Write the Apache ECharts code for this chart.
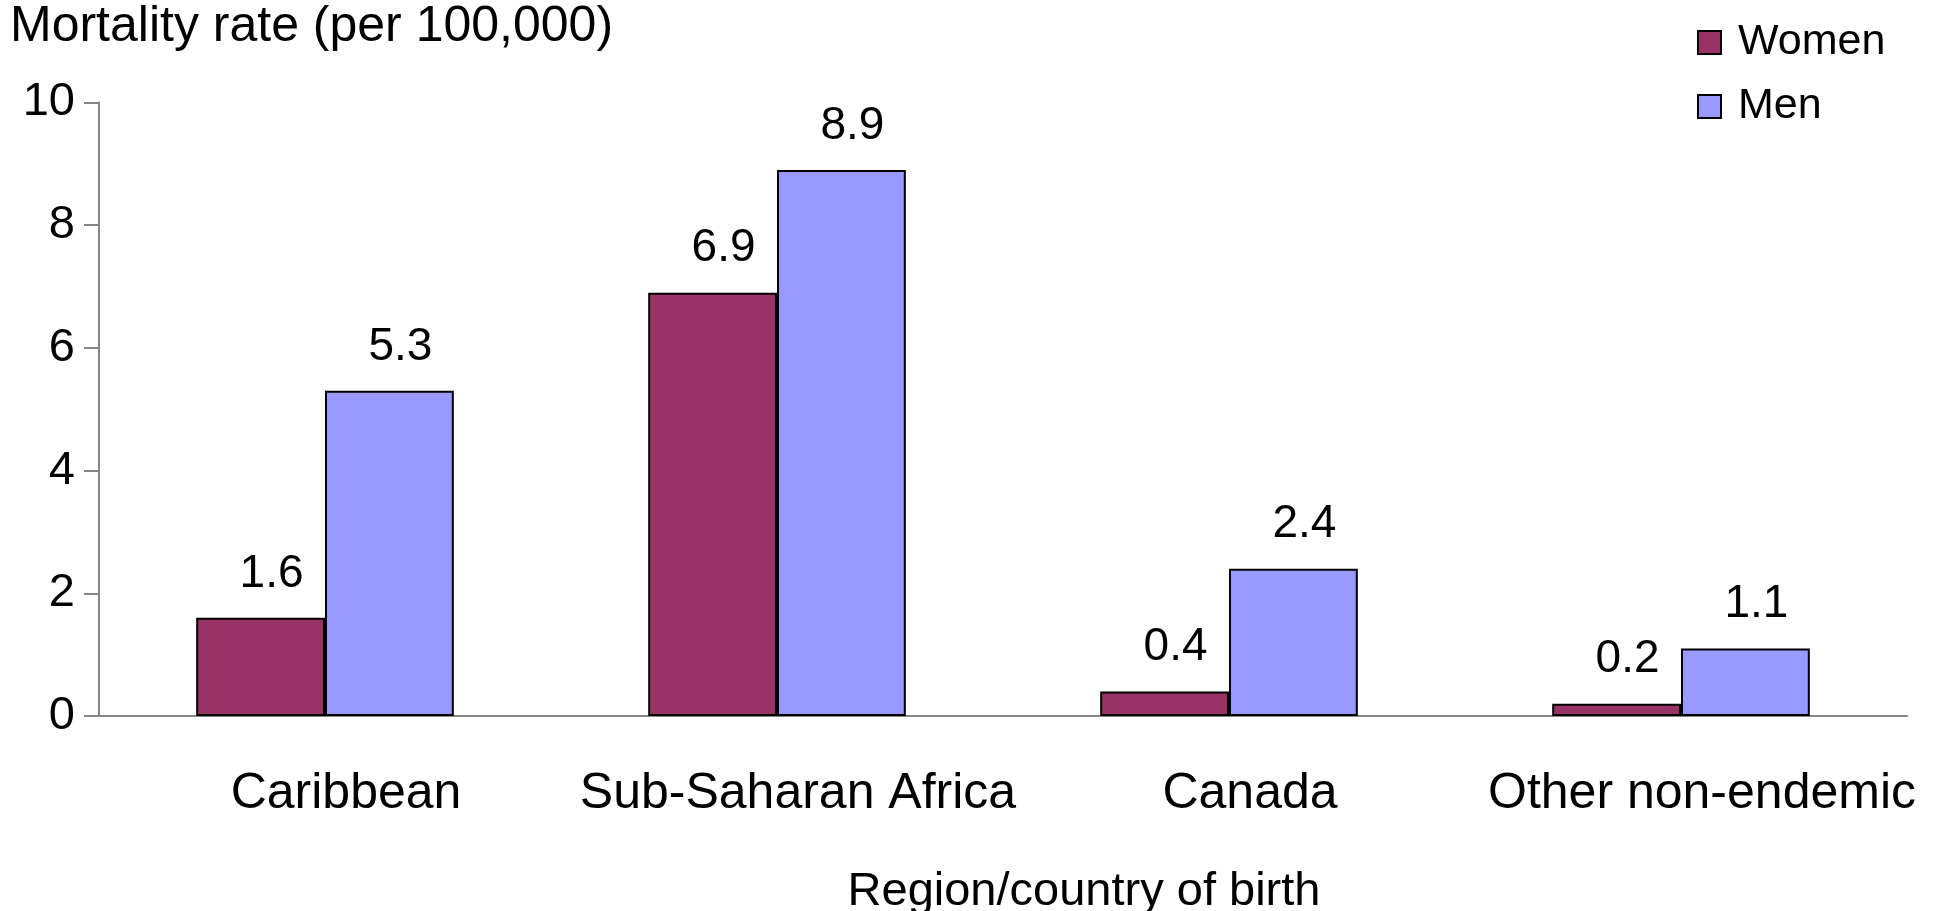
<!DOCTYPE html>
<html>
<head>
<meta charset="utf-8">
<script src="https://cdn.jsdelivr.net/npm/echarts@6/dist/echarts.min.js"></script>
<style>
  html, body { margin: 0; padding: 0; background: #fff; }
  #chart { width: 1944px; height: 911px; }
</style>
</head>
<body>
<div id="chart"></div>
<script>
const regions = ['Caribbean', 'Sub-Saharan Africa', 'Canada', 'Other non-endemic']
const women = [1.6, 6.9, 0.4, 0.2]
const men = [5.3, 8.9, 2.4, 1.1]
const yTicks = { min: 0, max: 10, interval: 2 }

const font = 'Liberation Sans, Arial, sans-serif'
const axisColor = '#858585'

const chart = echarts.init(document.getElementById('chart'))

const barLabel = {
  show: true,
  position: 'top',
  distance: 21,
  offset: [11, 0],
  color: '#000',
  fontFamily: font,
  fontSize: 46
}

chart.setOption({
  animation: false,
  title: {
    text: 'Mortality rate (per 100,000)',
    left: 10,
    top: 2,
    padding: 0,
    textStyle: {
      color: '#000',
      fontFamily: font,
      fontSize: 50,
      fontWeight: 'normal'
    }
  },
  legend: {
    orient: 'vertical',
    left: 1692,
    top: 16,
    itemWidth: 23,
    itemHeight: 23,
    itemGap: 21,
    icon: 'rect',
    textStyle: {
      color: '#000',
      fontFamily: font,
      fontSize: 43,
      padding: [0, 0, 0, 12]
    },
    data: ['Women', 'Men']
  },
  grid: {
    left: 99,
    right: 37,
    top: 102.5,
    bottom: 195,
    containLabel: false,
    outerBoundsMode: 'none'
  },
  xAxis: {
    type: 'category',
    data: regions,
    name: 'Region/country of birth',
    nameLocation: 'middle',
    nameGap: 153,
    nameTextStyle: {
      color: '#000',
      fontFamily: font,
      fontSize: 47,
      padding: [0, 0, 0, 162]
    },
    axisLine: { lineStyle: { color: axisColor, width: 2 } },
    axisTick: { length: 15, lineStyle: { color: axisColor, width: 2 } },
    axisLabel: {
      color: '#000',
      fontFamily: font,
      fontSize: 50,
      margin: 53,
      padding: [0, 0, 0, 42],
      interval: 0
    }
  },
  yAxis: {
    type: 'value',
    min: yTicks.min,
    max: yTicks.max,
    interval: yTicks.interval,
    axisLine: { show: true, lineStyle: { color: axisColor, width: 2 } },
    axisTick: { show: true, length: 15, lineStyle: { color: axisColor, width: 2 } },
    splitLine: { show: false },
    axisLabel: {
      color: '#000',
      fontFamily: font,
      fontSize: 47,
      margin: 24
    }
  },
  series: [
    {
      name: 'Women',
      type: 'bar',
      data: women,
      barGap: '0%',
      barCategoryGap: '43%',
      itemStyle: { color: '#993366', borderColor: '#000', borderWidth: 2 },
      label: barLabel
    },
    {
      name: 'Men',
      type: 'bar',
      data: men,
      itemStyle: { color: '#9999ff', borderColor: '#000', borderWidth: 2 },
      label: barLabel
    }
  ]
})
</script>
</body>
</html>
